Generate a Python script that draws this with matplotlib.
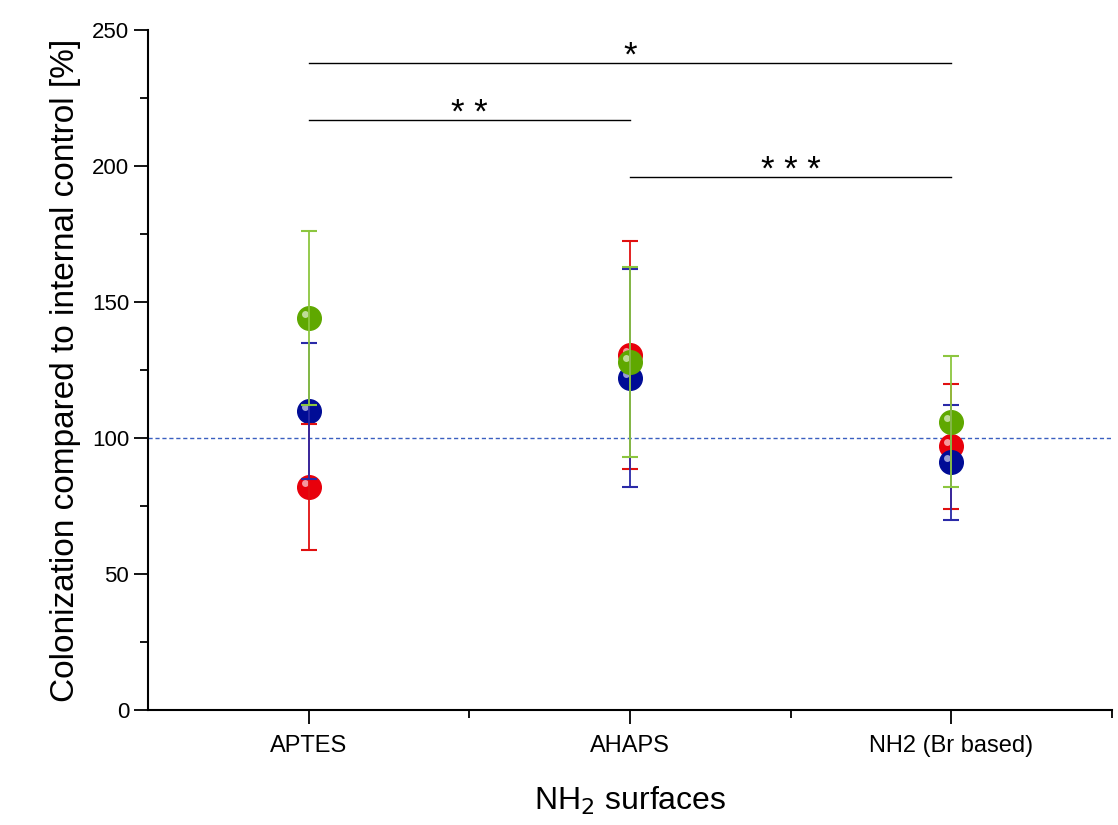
import numpy as np, matplotlib.pyplot as plt
from matplotlib import rcParams
import matplotlib.transforms as mtransforms

rcParams['font.family'] = ['Liberation Sans', 'DejaVu Sans']

surfaces = ['APTES', 'AHAPS', 'NH2 (Br based)']
x = np.array([1, 2, 3])

# mean and error per series
green_mean = [144, 128, 106]
green_err = [32, 35, 24]
red_mean = [82, 130.5, 97]
red_err = [23, 42, 23]
blue_mean = [110, 122, 91]
blue_err = [25, 40, 21]

# significance brackets: (from, to, height, label)
sig_from = [1, 1, 2]
sig_to = [3, 2, 3]
sig_y = [238, 217, 196]
sig_label = ['*', '* *', '* * *']

fig = plt.figure(figsize=(11.18, 8.25), dpi=100)
ax = fig.add_axes([0.1324, 0.1394, 0.8622, 0.8242])

ax.axhline(100, color='#3a5fc0', linestyle=(0, (3, 2)), linewidth=1.0, zorder=1)

series = [
    (red_mean, red_err, '#e8000b', '#e01010'),
    (blue_mean, blue_err, '#000c96', '#2a2aa8'),
    (green_mean, green_err, '#5fa800', '#8cc63f'),
]
hl = mtransforms.offset_copy(ax.transData, fig=fig, x=-3, y=3, units='points')
for mean, err, mc, ec in series:
    ax.plot(x, mean, 'o', ms=17, color=mc, mec=mc, zorder=3)
    ax.plot(x, mean, 'o', ms=5, color='white', alpha=0.6, mec='none', transform=hl, zorder=3)
for mean, err, mc, ec in series:
    ax.errorbar(x, mean, yerr=err, fmt='none', ecolor=ec, elinewidth=1.3,
                capsize=5.5, capthick=1.5, zorder=4)

for a, b, h, lab in zip(sig_from, sig_to, sig_y, sig_label):
    ax.plot([a, b], [h, h], color='black', linewidth=1.0)
    ax.text((a + b) / 2, h - 1, lab, ha='center', va='baseline', fontsize=25)

ax.set_xlim(0.5, 3.5)
ax.set_ylim(0, 250)
ax.set_xticks(x, surfaces)
ax.set_xticks([1.5, 2.5, 3.5], minor=True)
ax.set_yticks([0, 50, 100, 150, 200, 250])
ax.set_yticks([25, 75, 125, 175, 225], minor=True)
ax.tick_params(which='major', direction='out', length=10, width=1.3, labelsize=16)
ax.tick_params(axis='x', which='major', labelsize=17, pad=8)
ax.tick_params(which='minor', direction='out', length=6, width=1.3)
for s in ['top', 'right']:
    ax.spines[s].set_visible(False)
for s in ['left', 'bottom']:
    ax.spines[s].set_linewidth(1.5)

ax.set_ylabel('Colonization compared to internal control [%]', fontsize=24, labelpad=8)
ax.set_xlabel('NH$_2$ surfaces', fontsize=23, labelpad=20)

plt.savefig('out.png', dpi=100)
